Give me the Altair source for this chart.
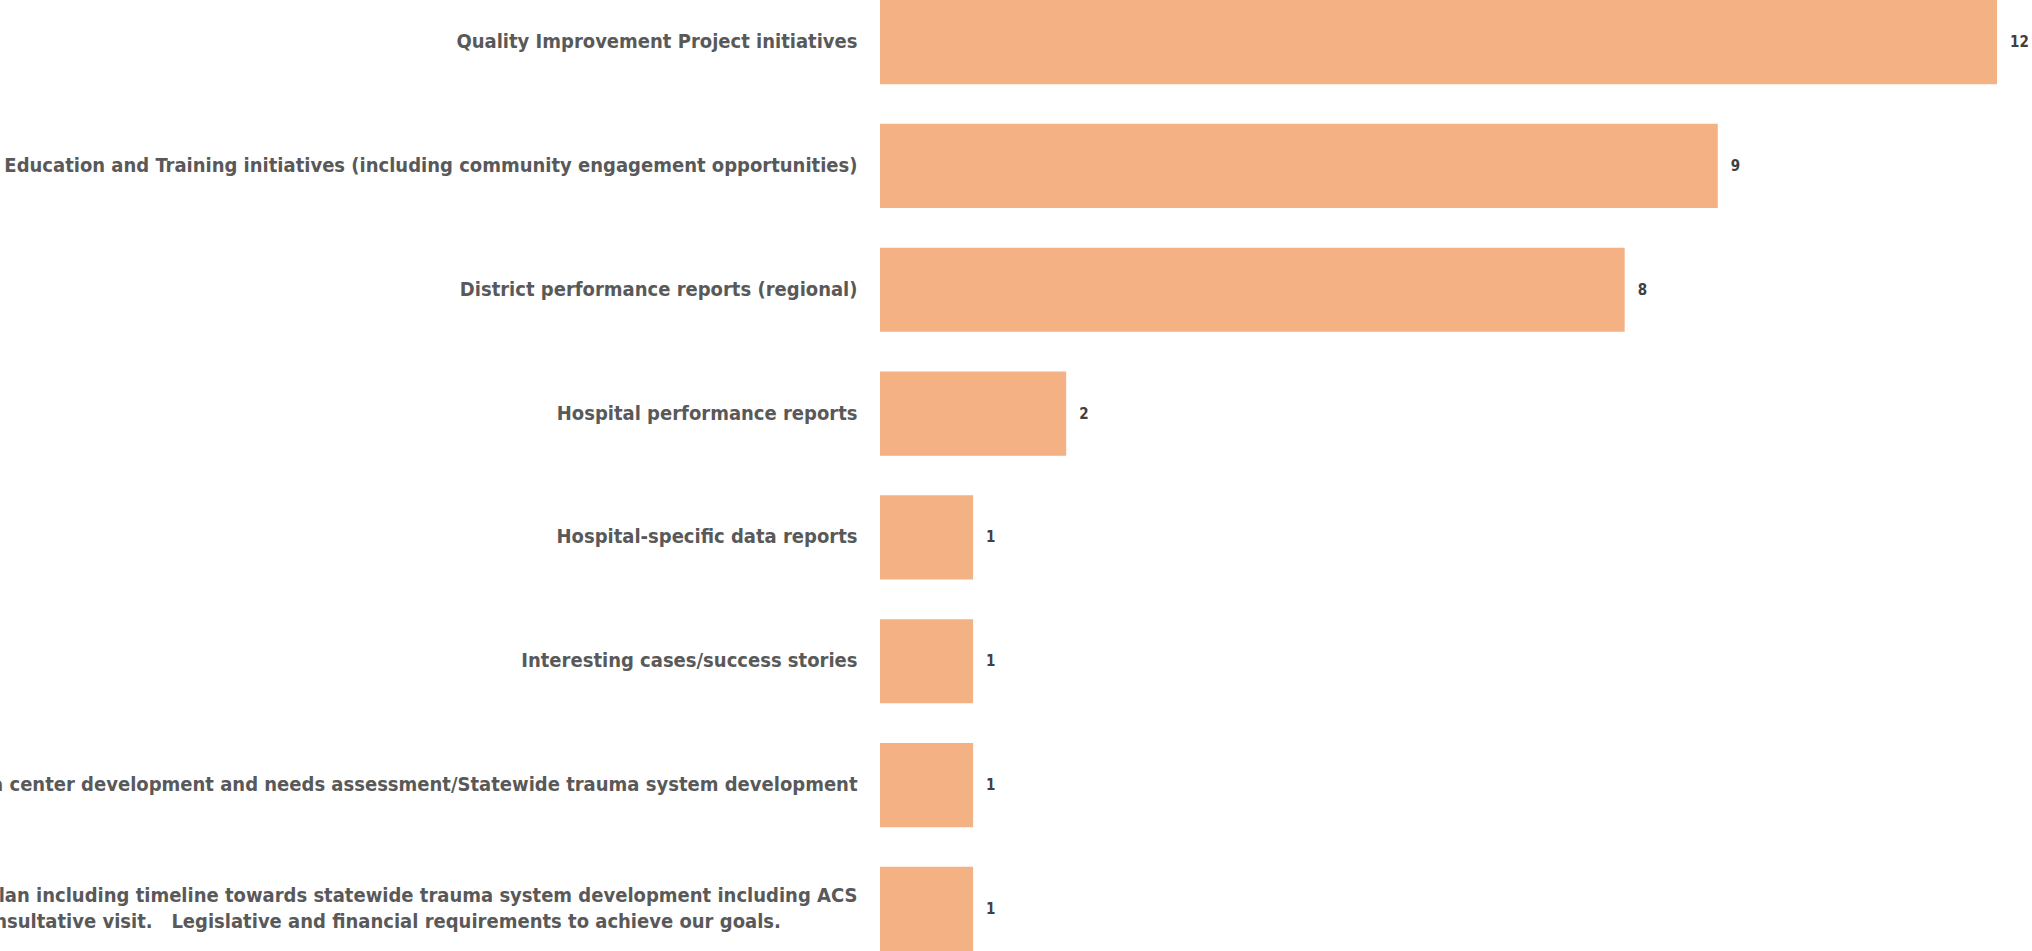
import altair as alt
import pandas as pd

categories = [
    "Quality Improvement Project initiatives",
    "Education and Training initiatives (including community engagement opportunities)",
    "District performance reports (regional)",
    "Hospital performance reports",
    "Hospital-specific data reports",
    "Interesting cases/success stories",
    "Trauma center development and needs assessment/Statewide trauma system development",
    "Strategic plan including timeline towards statewide trauma system development including ACS|consultative visit.\u00a0\u00a0\u00a0Legislative and financial requirements to achieve our goals.",
]
counts = [12, 9, 8, 2, 1, 1, 1, 1]

df = pd.DataFrame({"topic": categories, "count": counts})

FONT = "'DejaVu Sans Condensed', 'Liberation Sans Narrow', sans-serif"
pad = "\u00a0" * 10 + "\u2800"
label_expr = (
    "indexof(datum.label, '|') >= 0 ? "
    "[split(datum.label, '|')[0], split(datum.label, '|')[1] + '" + pad + "'] : datum.label"
)

y_enc = alt.Y(
    "topic:N",
    sort=categories,
    title=None,
    scale=alt.Scale(paddingInner=0.32, paddingOuter=0.0),
    axis=alt.Axis(
        domain=False,
        ticks=False,
        grid=False,
        labelPadding=23,
        labelFont=FONT,
        labelFontSize=20,
        labelFontWeight="bold",
        labelColor="#595959",
        labelLimit=0,
        labelLineHeight=26,
        labelExpr=label_expr,
        labelOffset={"condition": {"test": "indexof(datum.value, '|') >= 0", "value": -13}, "value": 0},
    ),
)
x_enc = alt.X("count:Q", title=None, axis=None, scale=alt.Scale(domain=[0, 12], nice=False))

bars = alt.Chart(df).mark_bar(color="#F4B183").encode(y=y_enc, x=x_enc)
text = alt.Chart(df).mark_text(
    align="left", baseline="middle", dx=13, font=FONT, fontSize=15,
    fontWeight="bold", color="#404040"
).encode(y=alt.Y("topic:N", sort=categories), x="count:Q", text="count:Q")

chart = (bars + text).properties(
    width=1117,
    height=951,
    background="white",
    autosize=alt.AutoSizeParams(type="none"),
    padding={"left": 880, "top": 0, "right": 35, "bottom": 0},
).configure_view(stroke=None)

chart.save("out.html", embed_options={"renderer": "svg", "actions": False})
